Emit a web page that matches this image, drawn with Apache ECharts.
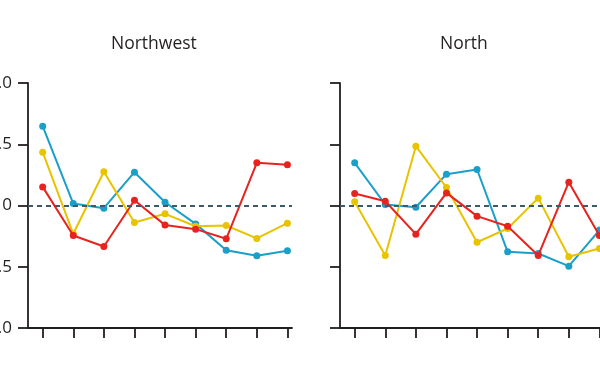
<!DOCTYPE html>
<html>
<head>
<meta charset="utf-8">
<script src="https://cdn.jsdelivr.net/npm/echarts@6/dist/echarts.min.js"></script>
<style>html,body{margin:0;padding:0;background:#fff;}#c{width:600px;height:371px;}</style>
</head>
<body>
<div id="c"></div>
<script>
var panelTitles = ['Northwest', 'North'];
var xPositions = [0, 1, 2, 3, 4, 5, 6, 7, 8];
var yTicks = [-1, -0.5, 0, 0.5, 1];
var yTickLabels = ['-1.0', '-0.5', '0', '0.5', '1.0'];
var seriesNames = ['Blue', 'Yellow', 'Red'];
var seriesColors = ['#1a9fc9', '#e8c300', '#e6231f'];

var northwestBlue   = [0.647, 0.016, -0.022, 0.272, 0.027, -0.150, -0.365, -0.410, -0.370];
var northwestYellow = [0.435, -0.231, 0.275, -0.139, -0.068, -0.169, -0.163, -0.269, -0.144];
var northwestRed    = [0.152, -0.245, -0.335, 0.043, -0.160, -0.193, -0.272, 0.348, 0.332];

var northBlue   = [0.348, 0.008, -0.014, 0.256, 0.294, -0.378, -0.392, -0.495, -0.201];
var northYellow = [0.030, -0.408, 0.484, 0.147, -0.300, -0.188, 0.060, -0.419, -0.351];
var northRed    = [0.098, 0.035, -0.234, 0.103, -0.087, -0.169, -0.408, 0.190, -0.245];

var panels = [
  [northwestBlue, northwestYellow, northwestRed],
  [northBlue, northYellow, northRed]
];

var FONT = '"Open Sans", "Noto Sans", sans-serif';
var AXIS_COLOR = '#231f20';
var gridLefts = [28, 340];
var titleLefts = [111, 440];

var grids = [], xAxes = [], yAxes = [], series = [], titles = [];
panels.forEach(function (p, pi) {
  grids.push({ left: gridLefts[pi], top: 83, width: 264, height: 245, containLabel: false, outerBoundsMode: 'none' });
  titles.push({
    text: panelTitles[pi], left: titleLefts[pi], top: 35, padding: 0,
    textStyle: { fontFamily: FONT, fontSize: 17.5, fontWeight: 'normal', color: '#231f20' }
  });
  xAxes.push({
    type: 'value', gridIndex: pi, min: -0.48, max: 8.15,
    axisLine: { show: true, onZero: false, lineStyle: { color: AXIS_COLOR, width: 1.8 } },
    axisTick: { show: true, inside: false, length: 10, customValues: xPositions,
                lineStyle: { color: AXIS_COLOR, width: 1.8 } },
    axisLabel: { show: false },
    splitLine: { show: false }
  });
  yAxes.push({
    type: 'value', gridIndex: pi, min: -1, max: 1, interval: 0.5,
    axisLine: { show: true, onZero: false, lineStyle: { color: AXIS_COLOR, width: 1.8 } },
    axisTick: { show: true, inside: false, length: 10, lineStyle: { color: AXIS_COLOR, width: 1.8 } },
    axisLabel: {
      show: pi === 0, margin: 16, fontFamily: FONT, fontSize: 17, color: '#231f20',
      formatter: function (v) {
        var i = yTicks.indexOf(Math.round(v * 2) / 2);
        return i >= 0 ? yTickLabels[i] : '';
      }
    },
    splitLine: { show: false }
  });
  series.push({
    type: 'line', xAxisIndex: pi, yAxisIndex: pi, data: [], z: 1, silent: true,
    markLine: {
      silent: true, symbol: 'none', label: { show: false }, animation: false,
      lineStyle: { type: [5, 4], color: '#3d5a6a', width: 2 },
      data: [{ yAxis: 0 }]
    }
  });
  p.forEach(function (vals, si) {
    series.push({
      name: seriesNames[si], type: 'line', xAxisIndex: pi, yAxisIndex: pi, z: 2 + si,
      data: vals.map(function (v, k) { return [xPositions[k], v]; }),
      symbol: 'circle', symbolSize: 7, showSymbol: true,
      lineStyle: { color: seriesColors[si], width: 2 },
      itemStyle: { color: seriesColors[si] },
      animation: false
    });
  });
});

var chart = echarts.init(document.getElementById('c'), null, { renderer: 'canvas' });
chart.setOption({
  backgroundColor: '#fff',
  animation: false,
  title: titles,
  grid: grids,
  xAxis: xAxes,
  yAxis: yAxes,
  series: series
});
</script>
</body>
</html>
